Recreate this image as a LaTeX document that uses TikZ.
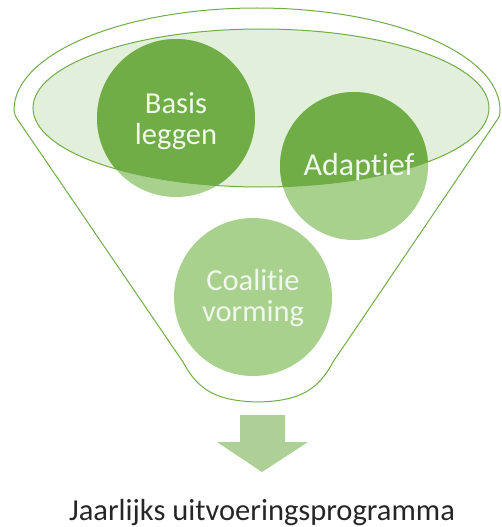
\documentclass[tikz,border=0pt]{standalone}
\usepackage{fontspec}
\setmainfont{Carlito}[Ligatures=NoCommon]
\definecolor{leafdark}{HTML}{70AD47}
\definecolor{leaflight}{HTML}{A9D18E}
\definecolor{cuppale}{HTML}{E2EFDA}
\definecolor{chutearrow}{HTML}{ADD096}
\definecolor{bubbleink}{HTML}{F0F7EC}
\tikzset{
  bubbletext/.style={align=center,text=bubbleink,inner sep=0pt,
    font=\fontsize{30.5}{31}\selectfont},
}
\begin{document}
\begin{tikzpicture}[x=1pt,y=1pt,yscale=-1]
    \useasboundingbox (0,0) rectangle (501,527);
    \coordinate (basisc) at (176,118);
    \coordinate (adaptc) at (354,166);
    \coordinate (coalc) at (253,297);
    % funnel body
    \draw[color=leafdark,line width=1pt,fill=white]
    (14,110) arc[start angle=180,end angle=360,x radius=243,y radius=102]
    .. controls (500,116) .. (495,123) -- (333,362)
    .. controls (318,390) and (300,401) .. (258,402)
    .. controls (216,401) and (198,390) .. (183,362)
    -- (20,123) .. controls (15,116) .. (14,110) -- cycle;
    \fill[color=cuppale](261,108) ellipse[x radius=228,y radius=79];
    \fill[color=leaflight](basisc) circle[radius=79]
                          (adaptc) circle[radius=74]
                          (coalc) circle[radius=79];
    \begin{scope}
      \clip (261,108) ellipse[x radius=228,y radius=79];
      \fill[color=leafdark](basisc) circle[radius=79]
                           (adaptc) circle[radius=74];
    \end{scope}
    \draw[color=leafdark,line width=1pt](261,108) ellipse[x radius=228,y radius=79];
    \node[bubbletext] (basis) at (176,121) {Basis\\leggen};
    \node[bubbletext,anchor=base,font=\fontsize{32}{32}\selectfont]
    (adaptief) at (359,175) {Adaptief};
    \node[bubbletext] (coalitie) at (253,298) {Coalitie\\vorming};
    % arrow out of the funnel
    \fill[color=chutearrow](240,415) -- (285,415) -- (285,442) -- (308,442)
    -- (262,472) -- (217,442) -- (240,442) -- cycle;
    \node[anchor=base,font=\fontsize{30.5}{32}\selectfont,text=black!85]
    (yearplan) at (262,520) {Jaarlijks uitvoeringsprogramma};
\end{tikzpicture}
\end{document}
